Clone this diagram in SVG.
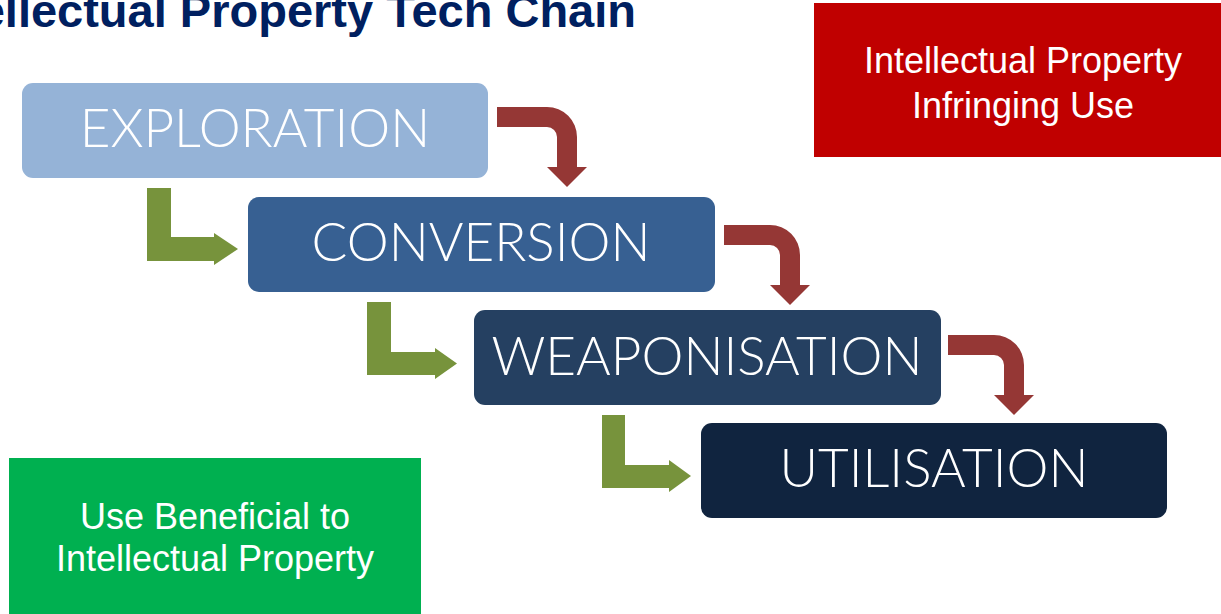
<svg xmlns="http://www.w3.org/2000/svg" width="1221" height="614" viewBox="0 0 1221 614">
<style>
.title{font-family:"Liberation Sans",Arial,sans-serif;font-weight:bold;font-size:47px;fill:#002060}
.step{font-family:"Lato","Open Sans",sans-serif;font-weight:300;font-size:53px;fill:#ffffff}
.note{font-family:"Liberation Sans",Arial,sans-serif;font-size:36px;fill:#ffffff}
.red{fill:#953735}
.green{fill:#77933C}
</style>
<rect width="1221" height="614" fill="#ffffff"/>
<text class="title" x="636" y="27" text-anchor="end">Intellectual Property Tech Chain</text>

<g id="infringing">
<rect x="814" y="3" width="407" height="154" fill="#C00000"/>
<text class="note" x="1023" y="73" text-anchor="middle">Intellectual Property</text>
<text class="note" x="1023" y="118" text-anchor="middle">Infringing Use</text>
</g>
<g id="beneficial">
<rect x="9" y="458" width="412" height="156" fill="#00B050"/>
<text class="note" x="215" y="529" text-anchor="middle">Use Beneficial to</text>
<text class="note" x="215" y="571" text-anchor="middle">Intellectual Property</text>
</g>

<g id="exploration">
<rect x="22" y="83" width="466" height="95" rx="11" fill="#95B3D7"/>
<text class="step" x="255" y="147" text-anchor="middle">EXPLORATION</text>
</g>
<g id="conversion">
<rect x="248" y="197" width="467" height="95" rx="11" fill="#376092"/>
<text class="step" x="481" y="261" text-anchor="middle">CONVERSION</text>
</g>
<g id="weaponisation">
<rect x="474" y="310" width="467" height="95" rx="11" fill="#254061"/>
<text class="step" x="707" y="375" text-anchor="middle">WEAPONISATION</text>
</g>
<g id="utilisation">
<rect x="701" y="423" width="466" height="95" rx="11" fill="#10243F"/>
<text class="step" x="934" y="487" text-anchor="middle">UTILISATION</text>
</g>

<g id="connectors">
<path class="red" d="M497 107 H547 A30 30 0 0 1 577 137 V167 H587 L567 187 L547 167 H557 V137 A10 10 0 0 0 547 127 H497 Z"/>
<path class="red" d="M724 225 H770 A30 30 0 0 1 800 255 V285 H810 L790 305 L770 285 H780 V255 A10 10 0 0 0 770 245 H724 Z"/>
<path class="red" d="M948 335 H994 A30 30 0 0 1 1024 365 V395 H1034 L1014 415 L994 395 H1004 V365 A10 10 0 0 0 994 355 H948 Z"/>
<path class="green" d="M147 188 H171 V237 H214 V233 L238 249 L214 265 V261 H147 Z"/>
<path class="green" d="M367 302 H391 V352 H435 V348 L457 363.5 L435 379 V375 H367 Z"/>
<path class="green" d="M602 415 H625 V465 H669 V460 L691 476 L669 492 V488 H602 Z"/>
</g>
</svg>
